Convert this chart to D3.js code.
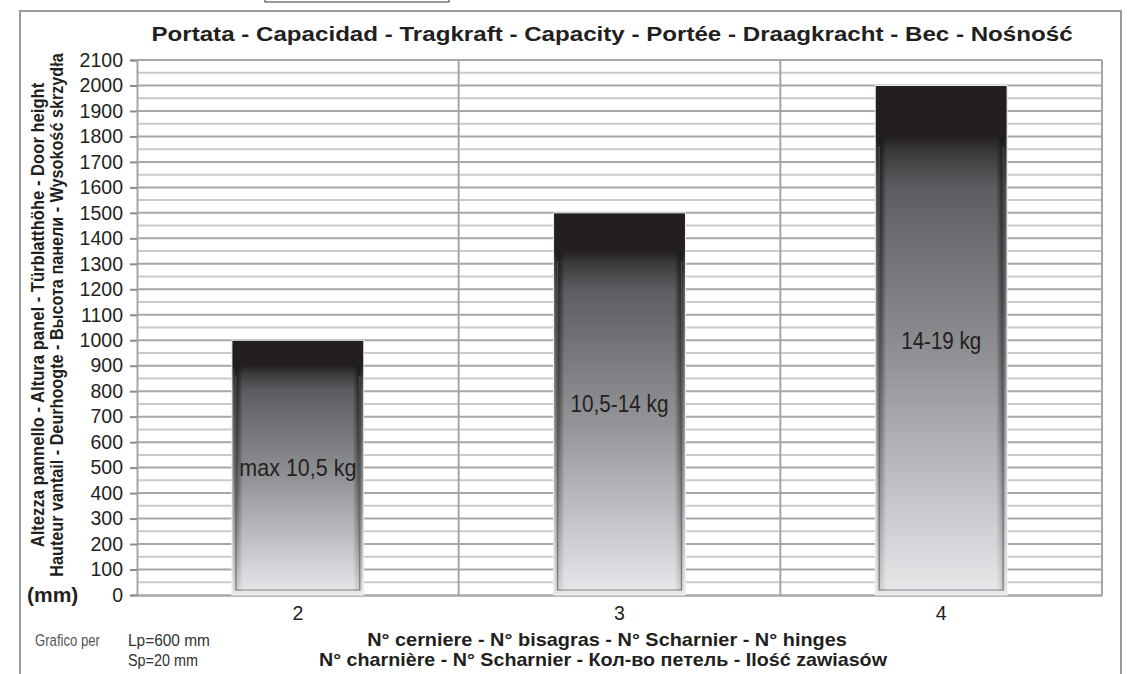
<!DOCTYPE html>
<html><head><meta charset="utf-8">
<script src="https://cdn.jsdelivr.net/npm/d3@7"></script>
<style>html,body{margin:0;padding:0;background:#fff;}svg{display:block;}</style>
</head><body>
<svg id="c" width="1129" height="674"></svg>
<script>
const categories = ["2", "3", "4"];
const doorHeights = [1000, 1500, 2000];
const capacityLabels = ["max 10,5 kg", "10,5-14 kg", "14-19 kg"];
const yTickValues = d3.range(0, 2101, 100);
const yMinorValues = d3.range(50, 2100, 100);
const titleText = "Portata - Capacidad - Tragkraft - Capacity - Portée - Draagkracht - Bec - Nośność";
const yTitle1 = "Altezza pannello - Altura panel - Türblatthöhe - Door height";
const yTitle2 = "Hauteur vantail - Deurhoogte - Высота панели - Wysokość skrzydła";
const xTitle1 = "N° cerniere - N° bisagras - N° Scharnier - N° hinges";
const xTitle2 = "N° charnière - N° Scharnier - Кол-во петель - Ilość zawiasów";

const svg = d3.select("#c");
const L = 137, R = 1102, T = 60, B = 595;
const y = d3.scaleLinear().domain([0, 2100]).range([B, T]);
const xBand = d3.scaleBand().domain(categories).range([L, R]).padding(0);
const xBar = d3.scaleBand().domain(categories).range([L, R]).paddingInner(0.59).paddingOuter(0.295);
const labelWidths = [117, 98, 80];
const FONT = "Liberation Sans, Arial, sans-serif";

// place text at (x,y) (optionally rotated) and condense horizontally to target width
function fitText(parent, str, x, y, rot, target, attrs) {
  const t = parent.append("text").text(str);
  Object.entries(attrs).forEach(([k, v]) => t.attr(k, v));
  const n = t.node().getComputedTextLength();
  const s = Math.min(1.15, target / n);
  t.attr("transform", `translate(${x},${y})${rot ? ` rotate(${rot})` : ""} scale(${s},1)`);
  return t;
}

const defs = svg.append("defs");
const g1 = defs.append("linearGradient").attr("id", "barGrad").attr("x1", 0).attr("y1", 0).attr("x2", 0).attr("y2", 1);
[[0, "#231f20"], [0.1, "#231f20"], [0.13, "#3a3a3c"], [0.2, "#5c5d60"], [0.35, "#747578"], [0.55, "#939497"], [0.8, "#c2c3c6"], [1, "#e8e9eb"]]
  .forEach(([o, c]) => g1.append("stop").attr("offset", o).attr("stop-color", c));
const g2 = defs.append("linearGradient").attr("id", "sideL").attr("x1", 0).attr("y1", 0).attr("x2", 1).attr("y2", 0);
[[0, "#1a1a1a", 0.0], [0.35, "#1a1a1a", 0.9], [1, "#1a1a1a", 0]].forEach(([o, c, a]) => g2.append("stop").attr("offset", o).attr("stop-color", c).attr("stop-opacity", a));
const g3 = defs.append("linearGradient").attr("id", "sideR").attr("x1", 1).attr("y1", 0).attr("x2", 0).attr("y2", 0);
[[0, "#1a1a1a", 0.0], [0.35, "#1a1a1a", 0.9], [1, "#1a1a1a", 0]].forEach(([o, c, a]) => g3.append("stop").attr("offset", o).attr("stop-color", c).attr("stop-opacity", a));
const g4 = defs.append("linearGradient").attr("id", "sideFade").attr("x1", 0).attr("y1", 0).attr("x2", 0).attr("y2", 1);
[[0, "#fff", 1], [0.5, "#fff", 0.6], [1, "#fff", 0.15]].forEach(([o, c, a]) => g4.append("stop").attr("offset", o).attr("stop-color", c).attr("stop-opacity", a));
defs.append("mask").attr("id", "fadeMask").attr("maskContentUnits", "objectBoundingBox")
  .append("rect").attr("width", 1).attr("height", 1).attr("fill", "url(#sideFade)");

// outer frame and top tab
svg.append("rect").attr("x", 20).attr("y", 11).attr("width", 1101).attr("height", 700)
  .attr("fill", "none").attr("stroke", "#9a9a9a").attr("stroke-width", 2);
svg.append("rect").attr("x", 265).attr("y", -5).attr("width", 184).attr("height", 7)
  .attr("fill", "none").attr("stroke", "#333").attr("stroke-width", 1);

// gridlines
svg.append("g").selectAll("line.minor").data(yMinorValues).join("line")
  .attr("x1", L).attr("x2", R).attr("y1", d => y(d)).attr("y2", d => y(d))
  .attr("stroke", "#c9cacc").attr("stroke-width", 2);
svg.append("g").selectAll("line.major").data(yTickValues.filter(d => d > 0)).join("line")
  .attr("x1", L).attr("x2", R).attr("y1", d => y(d)).attr("y2", d => y(d))
  .attr("stroke", "#a5a6a8").attr("stroke-width", 2);
// vertical dividers
svg.append("g").selectAll("line.v").data(categories).join("line")
  .attr("x1", d => xBand(d) + xBand.bandwidth()).attr("x2", d => xBand(d) + xBand.bandwidth())
  .attr("y1", T).attr("y2", B).attr("stroke", "#a5a6a8").attr("stroke-width", 2);

// y axis
const yAxis = d3.axisLeft(y).tickValues(yTickValues).tickSize(7).tickPadding(7).tickFormat(d3.format("d"));
const ya = svg.append("g").attr("transform", `translate(${L},0)`).call(yAxis);
ya.select(".domain").attr("stroke", "#a5a6a8").attr("stroke-width", 2);
ya.selectAll(".tick line").attr("stroke", "#8a8b8d").attr("stroke-width", 2);
ya.selectAll(".tick text").attr("font-family", FONT).attr("font-size", 19.5).attr("fill", "#231f20");

// x axis
const xAxis = d3.axisBottom(xBand).tickSize(0).tickPadding(11);
const xa = svg.append("g").attr("transform", `translate(0,${B})`).call(xAxis);
xa.select(".domain").attr("stroke", "#a5a6a8").attr("stroke-width", 2.5);
xa.selectAll(".tick text").attr("font-family", FONT).attr("font-size", 19.5).attr("fill", "#231f20");

// bars
const bars = svg.append("g").selectAll("g.bar").data(categories).join("g");
bars.append("rect")
  .attr("x", d => xBar(d)).attr("width", xBar.bandwidth())
  .attr("y", (d, i) => y(doorHeights[i])).attr("height", (d, i) => y(0) - y(doorHeights[i]))
  .attr("fill", "url(#barGrad)").attr("stroke", "#f0f0f0").attr("stroke-width", 1);
bars.each(function (d, i) {
  const gsel = d3.select(this);
  const x0 = xBar(d), w = xBar.bandwidth();
  const top = y(doorHeights[i]), h = y(0) - top;
  const sTop = top + h * 0.1, sH = h * 0.9 - 4;
  const side = gsel.append("g").attr("mask", "url(#fadeMask)");
  side.append("rect").attr("x", x0 + 1).attr("width", 10).attr("y", sTop).attr("height", sH).attr("fill", "url(#sideL)");
  side.append("rect").attr("x", x0 + w - 11).attr("width", 10).attr("y", sTop).attr("height", sH).attr("fill", "url(#sideR)");
  gsel.append("path")
    .attr("d", `M${x0 + 4},${sTop + 10} V${y(0) - 5} H${x0 + w - 4} V${sTop + 10}`)
    .attr("fill", "none").attr("stroke", "#5a5b5e").attr("stroke-opacity", 0.7).attr("stroke-width", 1.2);
  fitText(gsel, capacityLabels[i], x0 + w / 2, y(doorHeights[i] / 2), 0, labelWidths[i],
    { "text-anchor": "middle", "dy": "0.36em", "font-family": FONT, "font-size": 23, "fill": "#231f20" });
});

// title
fitText(svg, titleText, 612, 41, 0, 925,
  { "text-anchor": "middle", "font-family": FONT, "font-weight": "bold", "font-size": 21, "fill": "#231f20" });

// y title
const ytAttrs = { "text-anchor": "middle", "font-family": FONT, "font-weight": "bold", "font-size": 18, "fill": "#231f20" };
fitText(svg, yTitle1, 44, 315, -90, 465, ytAttrs);
fitText(svg, yTitle2, 63, 315, -90, 524, ytAttrs);
svg.append("text").attr("x", 27).attr("y", 602).attr("font-family", FONT)
  .attr("font-weight", "bold").attr("font-size", 21).attr("fill", "#231f20").text("(mm)");

// x title
const xtAttrs = { "text-anchor": "middle", "font-family": FONT, "font-weight": "bold", "font-size": 18, "fill": "#231f20" };
fitText(svg, xTitle1, 607, 646, 0, 480, xtAttrs);
fitText(svg, xTitle2, 603, 666, 0, 568, xtAttrs);

// footnote
const fnAttrs = { "font-family": FONT, "font-size": 17, "fill": "#333" };
fitText(svg, "Grafico per", 35, 646, 0, 65, Object.assign({}, fnAttrs, { fill: "#555" }));
fitText(svg, "Lp=600 mm", 128, 646, 0, 82, fnAttrs);
fitText(svg, "Sp=20 mm", 128, 666, 0, 70, fnAttrs);
</script>
</body></html>
